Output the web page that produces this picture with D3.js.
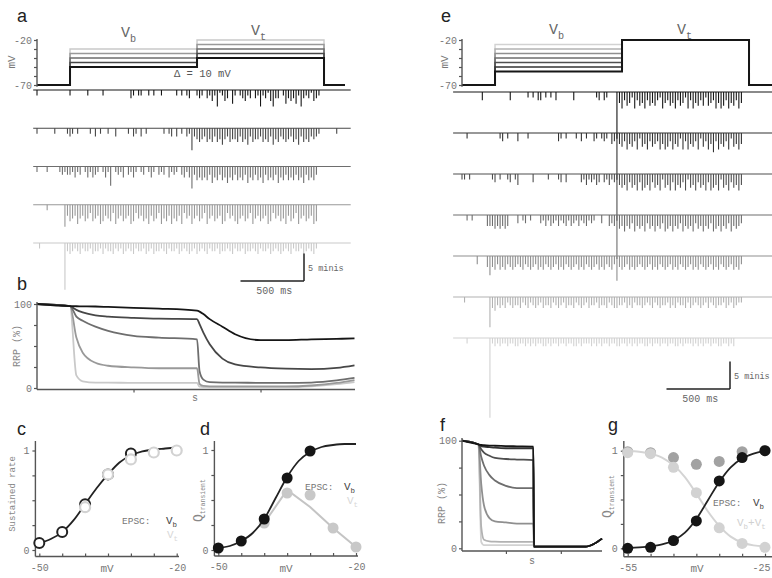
<!DOCTYPE html>
<html lang="en">
<head>
<meta charset="UTF-8">
<title>Minis and RRP depletion</title>
<script src="https://cdn.jsdelivr.net/npm/d3@7"></script>
<style>
  body { margin: 0; background: #fff; }
  svg { display: block; }
</style>
</head>
<body>
<svg id="fig" width="772" height="578"></svg>
<script>
// ---------- data ----------
const vbA = [-50, -45, -40, -35, -30];           // mV, panel a (Vt = Vb + 10)
const deltaA = 10;
const vbE = [-55, -50, -45, -40, -35, -30, -25]; // mV, panel e
const vtE = -20;
const tOn = 0.5, tStep = 1.5, tOff = 2.5;        // s

// minis per 20 ms bin from 0.24 s; one char per bin, base-36 count of half-minis
const binStart = 0.24, binWidth = 0.02, nBins = 125;
const minisA = [
  "20000 00000 00020 00000 20000 02000 00000 00320 22002 02002 00000 20202 30023 20324 26124 30520 23423 03262 31463 30253 43526 32314 32000 00000 00000",
  "20000 00200 00232 02000 02030 20020 03000 02032 03020 00000 20230 30203 28345 43545 35464 35445 35463 54435 45364 53454 35463 54534 32000 00020 00000",
  "20002 00002 32332 42302 42432 02427 02324 03242 02302 42032 30423 20342 48354 54536 45354 64535 45364 53546 35453 64535 45354 63545 30000 00000 00000",
  "00002 00000 08465 47546 53654 76456 37546 54763 54657 46537 56475 64735 47546 53754 65476 35467 54653 75465 47635 46574 65375 46547 60000 00000 00000",
  "02000 00000 0h343 23423 32433 24233 42324 32342 33243 24332 34233 24323 43243 23423 32433 23423 32433 23423 32432 34323 42332 43234 20000 00000 00000"
];
const minisE = [
  "00000 00030 00000 00003 00000 02020 33020 20300 00003 00000 00023 03200 0h463 54263 54635 45326 43546 35426 36453 52543 64653 64536 40000 00000 00000",
  "00200 00000 00000 23020 00300 02000 00000 00032 02000 20302 00320 23204 3h453 64536 25463 54364 65364 52636 45362 53647 36453 62546 40000 00000 00000",
  "22020 00000 00230 20023 02400 00030 00002 00023 03000 00324 23243 03242 3h454 63546 36546 35462 54636 45362 54635 46365 46254 63546 40000 00000 00000",
  "00202 00000 44454 54540 00302 30200 03242 43242 34243 24234 23200 30043 4g546 45364 54635 46453 65464 53645 46354 64536 54645 36454 30000 00000 00000",
  "00000 03000 47453 54534 54345 34543 54534 54354 53454 35453 45435 45345 39454 35454 34543 54534 54354 53454 35453 45435 45345 43545 30000 00000 00000",
  "02000 00000 0b453 43423 43342 34234 32433 42343 24334 23432 43324 33423 44332 43423 34323 42343 32434 23342 43234 32423 43324 32432 20000 00000 00000",
  "00200 00000 0t232 32232 23322 32323 22332 32232 23223 32322 23232 32232 23322 32323 22332 32232 23223 32322 23232 32232 23322 32300 00000 00000 00000"
];

// RRP (%) over time, panel b (one row per Vb of panel a)
const rrpTimeB = [0.24, 0.5, 0.55, 0.6, 0.7, 0.8, 1.0, 1.2, 1.5, 1.52, 1.55, 1.6, 1.7, 1.8, 2.0, 2.2, 2.4, 2.6, 2.74];
const rrpB = [
  [100, 97.5, 97.3, 97.2, 97, 96.5, 95.5, 94.5, 92, 91, 88, 82, 73, 64, 57, 57, 58, 58.5, 59],
  [100, 97.5, 93, 90, 86.5, 85, 83.5, 82.5, 82, 76, 66, 52, 35, 28, 24.5, 23, 22.5, 24, 27],
  [100, 97.5, 85, 80, 73, 68, 62, 60, 58, 20, 10, 7, 6.5, 6.5, 6, 6, 6.5, 9, 12],
  [100, 97.5, 60, 42, 30, 26.5, 24.5, 23.5, 23.5, 5, 2.5, 2, 2, 2, 2, 2, 3, 6, 9.5],
  [100, 97.5, 15, 8, 6.5, 6.5, 6, 6, 6, 1.5, 1, 1, 1, 1, 1, 1, 2, 4.5, 7]
];
// RRP (%) over time, panel f (one row per Vb of panel e)
const rrpTimeF = [0.2, 0.5, 0.55, 0.6, 0.7, 0.8, 1.0, 1.2, 1.5, 1.51, 2.0, 2.45, 2.6, 2.75];
const rrpF = [
  [100, 96.5, 96, 95.8, 95.5, 95.3, 95, 94.8, 94.5, 1.5, 1.5, 1.5, 4, 9],
  [100, 96.5, 95, 94.5, 94, 93.5, 93, 93, 93, 1.5, 1.5, 1.5, 4, 9],
  [100, 96.5, 92, 89, 86, 84, 83, 82.5, 82, 1.5, 1.5, 1.5, 4, 9],
  [100, 96.5, 85, 77, 68, 63, 58, 56, 56, 1.5, 1.5, 1.5, 4, 9],
  [100, 96.5, 60, 40, 28, 25, 24, 23, 23, 1.5, 1.5, 1.5, 4, 9],
  [100, 96.5, 20, 8, 6.5, 6.2, 6, 6, 6, 1.5, 1.5, 1.5, 4, 9],
  [100, 96.5, 6, 3, 3, 3, 3, 3, 3, 1.5, 1.5, 1.5, 4, 9]
];

// panel c and d
const mvCD = [-50, -45, -40, -35, -30, -25, -20];
const rateVb = [0.07, 0.18, 0.46, 0.76, 0.97, null, null];
const rateVt = [null, null, 0.43, 0.76, 0.91, 0.98, 1.0];
const fitMvCD = [-50, -47.5, -45, -42.5, -40, -37.5, -35, -32.5, -30, -27.5, -25, -22.5, -20];
const rateFit = [0.07, 0.11, 0.18, 0.30, 0.46, 0.62, 0.76, 0.88, 0.95, 0.99, 1.01, 1.02, 1.03];
const qVbD = [0.02, 0.09, 0.31, 0.72, 0.99, null, null];
const qVtD = [null, null, 0.27, 0.57, 0.55, 0.22, 0.03];
const qFitD = [0.02, 0.04, 0.09, 0.17, 0.31, 0.52, 0.73, 0.89, 0.98, 1.03, 1.05, 1.06, 1.06];
const qVtLineD = [null, null, null, null, 0.27, null, 0.60, null, 0.43, null, 0.22, null, 0.03];

// panel g
const mvG = [-55, -50, -45, -40, -35, -30, -25];
const qVbG = [0.0, 0.01, 0.08, 0.28, 0.69, 0.93, 1.0];
const qVtG = [0.99, 0.98, 0.93, 0.86, 0.89, 0.99, 1.0];
const qVbVtG = [0.98, 0.97, 0.83, 0.57, 0.21, 0.05, 0.01];
const fitMvG = [-55, -52.5, -50, -47.5, -45, -42.5, -40, -37.5, -35, -32.5, -30, -27.5, -25];
const qFitVbG = [0.005, 0.01, 0.02, 0.04, 0.08, 0.16, 0.30, 0.49, 0.68, 0.83, 0.92, 0.97, 1.0];
const qFitVbVtG = [1.0, 0.99, 0.97, 0.93, 0.85, 0.73, 0.56, 0.38, 0.23, 0.12, 0.06, 0.03, 0.02];

// ---------- drawing ----------
const mono = '"Liberation Mono", "DejaVu Sans Mono", monospace';
const sans = '"Liberation Sans", Arial, sans-serif';
const axisCol = "#555";
const svg = d3.select("#fig");
svg.append("rect").attr("width", 772).attr("height", 578).attr("fill", "#fff");

const greysA = ["#161616", "#474747", "#6e6e6e", "#999999", "#c9c9c9"];
const greysE = ["#161616", "#333333", "#4f4f4f", "#6e6e6e", "#8f8f8f", "#b2b2b2", "#d2d2d2"];

function text(x, y, s, size, fill, family, anchor) {
  return svg.append("text").attr("x", x).attr("y", y)
    .attr("font-family", family || mono).attr("font-size", size)
    .attr("fill", fill || "#666").attr("text-anchor", anchor || "start").text(s);
}

function subLabel(x, y, parts, size, fill) {
  // parts: [["V", false], ["b", true], ...]
  const t = svg.append("text").attr("x", x).attr("y", y)
    .attr("font-family", mono).attr("font-size", size).attr("fill", fill);
  let low = false;
  parts.forEach(([s, sub]) => {
    const sp = t.append("tspan").text(s);
    if (sub) sp.attr("font-size", size * 0.68);
    if (sub && !low) { sp.attr("dy", size * 0.3); low = true; }
    else if (!sub && low) { sp.attr("dy", -size * 0.3); low = false; }
  });
  return t;
}

function line(x1, y1, x2, y2, col, w) {
  svg.append("line").attr("x1", x1).attr("y1", y1).attr("x2", x2).attr("y2", y2)
    .attr("stroke", col || axisCol).attr("stroke-width", w || 1.4);
}

function styleAxis(g) {
  g.select(".domain").remove();
  g.selectAll(".tick line").attr("stroke", axisCol).attr("stroke-width", 1.2);
  g.selectAll(".tick text").attr("font-family", mono).attr("font-size", 10).attr("fill", "#777");
}

function only(vals) { return d => (vals.includes(d) ? d : ""); }

// ---- pulses (a, e) ----
function drawPulse(x0, xs, levels, vtOf, colors, tEnd) {
  const ys = d3.scaleLinear().domain([-70, -20]).range([85, 40]);
  const path = d3.line();
  levels.map((vb, i) => ({ vb, i })).reverse().forEach(({ vb, i }) => {
    const vt = vtOf(vb);
    svg.append("path")
      .attr("d", path([[xs(binStart), ys(-70)], [xs(tOn), ys(-70)], [xs(tOn), ys(vb)], [xs(tStep), ys(vb)],
        [xs(tStep), ys(vt)], [xs(tOff), ys(vt)], [xs(tOff), ys(-70)], [xs(tEnd), ys(-70)]]))
      .attr("fill", "none").attr("stroke", colors[i]).attr("stroke-width", i === 0 ? 2 : 1.4);
  });
  const ax = svg.append("g").attr("transform", `translate(${x0},0)`)
    .call(d3.axisLeft(ys).tickValues([-70, -60, -50, -40, -30, -20]).tickSize(3).tickPadding(2)
      .tickFormat(only([-70, -20])));
  styleAxis(ax);
  line(x0, ys(-72), x0, ys(-19));
  return ys;
}

const xsA = d3.scaleLinear().domain([0.24, 2.74]).range([37, 354.5]);
const xsE = d3.scaleLinear().domain([0.24, 2.74]).range([462, 779.5]);
drawPulse(37, xsA, vbA, v => v + deltaA, greysA, 2.665);
drawPulse(462, xsE, vbE, () => vtE, greysE, 2.8);

// ---- mini traces ----
const minisPx = d3.scaleLinear().domain([0, 5]).range([0, 27.5]);
function parseTrace(s) {
  const c = s.replace(/\s/g, "").padEnd(nBins, "0").slice(0, nBins);
  return Array.from(c, (ch, i) => ({ t: binStart + i * binWidth, n: parseInt(ch, 36) / 2 }));
}
function drawTraces(traces, colors, xs, rowY, tA, tB) {
  traces.forEach((s, i) => {
    const y0 = rowY(i);
    const g = svg.append("g");
    g.append("line").attr("x1", xs(tA)).attr("x2", xs(tB)).attr("y1", y0).attr("y2", y0)
      .attr("stroke", colors[i]).attr("stroke-width", 1.1);
    g.selectAll("line.mini").data(parseTrace(s).filter(d => d.n > 0)).join("line")
      .attr("class", "mini")
      .attr("x1", d => xs(d.t)).attr("x2", d => xs(d.t))
      .attr("y1", y0).attr("y2", d => y0 + minisPx(d.n))
      .attr("stroke", colors[i]).attr("stroke-width", 1.1);
  });
}
drawTraces(minisA, greysA, xsA, d3.scaleLinear().domain([0, 4]).range([90, 243]), 0.21, 2.71);
drawTraces(minisE, greysE, xsE, d3.scaleLinear().domain([0, 6]).range([92, 338]), 0.17, 2.8);

function scaleBar(xs, xRight, yBottom) {
  const w = xs(0.5) - xs(0);
  line(xRight - w, yBottom, xRight, yBottom, "#222", 1.5);
  line(xRight, yBottom, xRight, yBottom - minisPx(5), "#222", 1.5);
  text(xRight + 4, yBottom - 10, "5 minis", 8.5, "#666");
  text(xRight - w / 2 + 2, yBottom + 13, "500 ms", 10, "#666", mono, "middle");
}
scaleBar(xsA, 304, 281);
scaleBar(xsE, 730, 389);

// pulse labels
subLabel(121, 37, [["V", false], ["b", true]], 15, "#666");
subLabel(251, 35, [["V", false], ["t", true]], 15, "#666");
subLabel(549, 34, [["V", false], ["b", true]], 15, "#666");
subLabel(677, 34, [["V", false], ["t", true]], 15, "#666");
text(174, 77, "\u0394 = 10 mV", 10.5, "#555");
[[15, 62], [448, 62]].forEach(([x, y]) => {
  svg.append("text").attr("transform", `translate(${x},${y}) rotate(-90)`)
    .attr("font-family", mono).attr("font-size", 11).attr("fill", "#777")
    .attr("text-anchor", "middle").text("mV");
});

// ---- RRP panels (b, f) ----
function rrpPanel(times, rows, colors, xs, ys, xAxisY, yTop, xEnd, labelX, labelY, sX, sY) {
  const ln = d3.line().x((d, i) => xs(times[i])).y(d => ys(d)).curve(d3.curveMonotoneX);
  rows.map((r, i) => ({ r, i })).reverse().forEach(({ r, i }) => {
    svg.append("path").attr("d", ln(r)).attr("fill", "none")
      .attr("stroke", colors[i]).attr("stroke-width", 1.8);
  });
  const x0 = xs.range()[0];
  const ay = svg.append("g").attr("transform", `translate(${x0},0)`)
    .call(d3.axisLeft(ys).tickValues([0, 25, 50, 75, 100]).tickSize(3).tickPadding(2)
      .tickFormat(only([0, 100])));
  styleAxis(ay);
  const axx = svg.append("g").attr("transform", `translate(0,${xAxisY})`)
    .call(d3.axisBottom(xs).tickValues([1, 2]).tickSize(3).tickFormat(""));
  styleAxis(axx);
  line(x0, yTop, x0, xAxisY);
  line(x0, xAxisY, xEnd, xAxisY);
  svg.append("text").attr("transform", `translate(${labelX},${labelY}) rotate(-90)`)
    .attr("font-family", mono).attr("font-size", 10).attr("fill", "#888")
    .attr("text-anchor", "middle").text("RRP (%)");
  text(sX, sY, "s", 10, "#777", mono, "middle");
}
rrpPanel(rrpTimeB, rrpB, greysA,
  d3.scaleLinear().domain([0.24, 2.74]).range([37, 354.5]),
  d3.scaleLinear().domain([0, 100]).range([388, 304]), 389.5, 302, 355, 20, 346, 195, 401);
rrpPanel(rrpTimeF, rrpF, greysE,
  d3.scaleLinear().domain([0.2, 2.75]).range([462, 602]),
  d3.scaleLinear().domain([0, 100]).range([548.3, 440.7]), 551, 438, 602, 445, 503, 532, 564);

// ---- voltage dependence panels (c, d, g) ----
function vPanel(xs, ys, xAxisY, xEnd, ticks, labelTicks, mvX) {
  const x0 = xs.range()[0] - (xs(ticks[1]) - xs(ticks[0])) * 0.17;
  const ay = svg.append("g").attr("transform", `translate(${x0},0)`)
    .call(d3.axisLeft(ys).tickValues([0, 0.25, 0.5, 0.75, 1]).tickSize(3).tickPadding(3)
      .tickFormat(only([0, 1])));
  styleAxis(ay);
  const axx = svg.append("g").attr("transform", `translate(0,${xAxisY})`)
    .call(d3.axisBottom(xs).tickValues(ticks).tickSize(-3).tickPadding(7).tickFormat(only(labelTicks)));
  styleAxis(axx);
  // keep the right-hand label inside the frame
  axx.selectAll(".tick text").filter(d => d === ticks[ticks.length - 1])
    .attr("dx", xs(ticks[ticks.length - 1]) + 10 > 772 ? -4 : 0);
  line(x0, 441, x0, xAxisY);
  line(x0, xAxisY, xEnd, xAxisY);
  text(mvX, 572, "mV", 11, "#777", mono, "middle");
  return x0;
}
function pts(xv, yv) { return xv.map((x, i) => [x, yv[i]]).filter(d => d[1] != null); }
function curve(xs, ys, data, col, w, crv) {
  svg.append("path")
    .attr("d", d3.line().x(d => xs(d[0])).y(d => ys(d[1])).curve(crv || d3.curveMonotoneX)(data))
    .attr("fill", "none").attr("stroke", col).attr("stroke-width", w);
}
function dots(xs, ys, data, fill, stroke, r, sw) {
  svg.append("g").selectAll("circle").data(data).join("circle")
    .attr("cx", d => xs(d[0])).attr("cy", d => ys(d[1])).attr("r", r)
    .attr("fill", fill).attr("stroke", stroke).attr("stroke-width", sw);
}

// c
const xC = d3.scaleLinear().domain([-50, -20]).range([39.3, 176.7]);
const yC = d3.scaleLinear().domain([0, 1]).range([550, 450.5]);
vPanel(xC, yC, 556.5, 179, mvCD, [-50, -20], 107);
curve(xC, yC, pts(fitMvCD, rateFit), "#222", 1.8);
dots(xC, yC, pts(mvCD, rateVb), "#fff", "#222", 5, 2);
dots(xC, yC, pts(mvCD, rateVt), "#fff", "#d2d2d2", 5, 2.2);
svg.append("text").attr("transform", "translate(15,494) rotate(-90)")
  .attr("font-family", mono).attr("font-size", 9).attr("fill", "#888")
  .attr("text-anchor", "middle").text("Sustained rate");
text(122, 524, "EPSC:", 9.5, "#777");
subLabel(166, 524, [["V", false], ["b", true]], 11, "#444");
subLabel(167, 538, [["V", false], ["t", true]], 11, "#d8d8d8");

// d
const xD = d3.scaleLinear().domain([-50, -20]).range([218.3, 356]);
const yD = d3.scaleLinear().domain([0, 1]).range([550, 450]);
vPanel(xD, yD, 556, 358, mvCD, [-50, -20], 286);
curve(xD, yD, pts(fitMvCD, qVtLineD), "#c4c4c4", 2, d3.curveLinear);
dots(xD, yD, pts(mvCD, qVtD), "#c8c8c8", "none", 5.5, 0);
curve(xD, yD, pts(fitMvCD, qFitD), "#222", 1.8);
dots(xD, yD, pts(mvCD, qVbD), "#151515", "none", 5.5, 0);
function qLabel(x, y) {
  const t = svg.append("text").attr("transform", `translate(${x},${y}) rotate(-90)`)
    .attr("font-family", mono).attr("fill", "#888");
  t.append("tspan").attr("font-size", 13).text("Q");
  t.append("tspan").attr("font-size", 6.5).attr("dy", 3).text("transient");
}
qLabel(202, 522);
text(305, 490, "EPSC:", 9.5, "#777");
subLabel(344, 490, [["V", false], ["b", true]], 11, "#444");
subLabel(347, 504, [["V", false], ["t", true]], 11, "#d8d8d8");

// g
const xG = d3.scaleLinear().domain([-55, -25]).range([627.7, 765]);
const yG = d3.scaleLinear().domain([0, 1]).range([548.3, 450.7]);
vPanel(xG, yG, 556.7, 772, mvG, [-55, -25], 697);
dots(xG, yG, pts(mvG, qVtG), "#a2a2a2", "none", 5.5, 0);
curve(xG, yG, pts(fitMvG, qFitVbVtG), "#d4d4d4", 2);
dots(xG, yG, pts(mvG, qVbVtG), "#d2d2d2", "none", 5.5, 0);
curve(xG, yG, pts(fitMvG, qFitVbG), "#222", 1.8);
dots(xG, yG, pts(mvG, qVbG), "#151515", "none", 5.5, 0);
qLabel(611, 518);
text(713, 506, "EPSC:", 9.5, "#777");
subLabel(753, 506, [["V", false], ["b", true]], 11, "#444");
subLabel(737, 526, [["V", false], ["b", true], ["+V", false], ["t", true]], 11, "#d0d0d0");

// panel letters
[["a", 17, 22], ["b", 17, 290], ["c", 17, 435], ["d", 200, 435],
 ["e", 441, 22], ["f", 440, 431], ["g", 608, 431]].forEach(([s, x, y]) => {
  text(x, y, s, 18, "#222", sans);
});
</script>
</body>
</html>
